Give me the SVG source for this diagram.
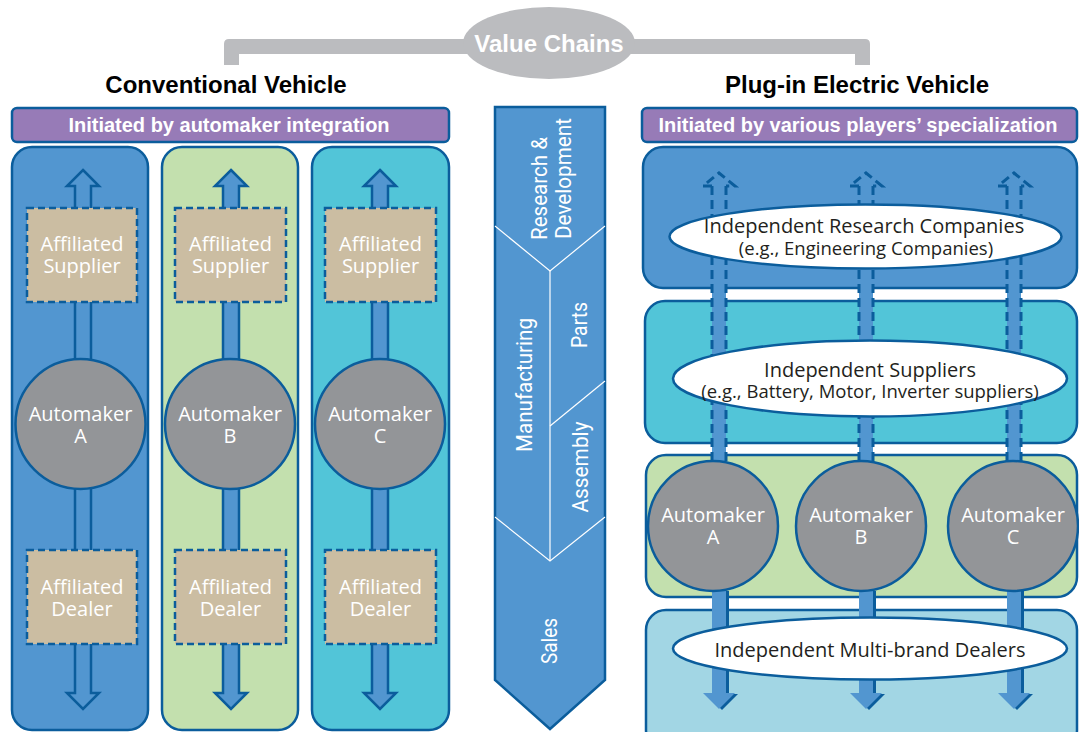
<svg xmlns="http://www.w3.org/2000/svg" width="1079" height="732" viewBox="0 0 1079 732">
<style>
.pan{stroke:#0b5d9c;stroke-width:2.5}
.blue{fill:#5296d0}
.green{fill:#c3e0ae}
.cyan{fill:#52c5d8}
.lblue{fill:#a2d6e4}
.bar{fill:#977bb7;stroke:#0b5d9c;stroke-width:2.5}
.bartxt{font-family:"Liberation Sans",Arial,sans-serif;font-weight:bold;font-size:20px;fill:#fff;text-anchor:middle}
.title{font-family:"Liberation Sans",Arial,sans-serif;font-weight:bold;font-size:24px;fill:#000;text-anchor:middle}
.arr{fill:#5296d0;stroke:#0b5d9c;stroke-width:2.5;stroke-linejoin:miter}
.box{fill:#cbbda2;stroke:#0b5d9c;stroke-width:2.5;stroke-dasharray:7 4}
.wt{font-family:"Open Sans",sans-serif;font-size:20px;fill:#fff;text-anchor:middle}
.circ{fill:#939598;stroke:#0b5d9c;stroke-width:2.5}
.ell{fill:#fff;stroke:#0b5d9c;stroke-width:2.5}
.dt{font-family:"Open Sans",sans-serif;font-size:20px;fill:#231f20;text-anchor:middle}
.dt2{font-family:"Open Sans",sans-serif;font-size:18.5px;fill:#231f20;text-anchor:middle}
.dash{fill:none;stroke:#0b5d9c;stroke-width:3;stroke-dasharray:9 5}
.wl{fill:none;stroke:#fff;stroke-width:1.2}
.vt{font-family:Roboto,"Liberation Sans",sans-serif;font-size:21.5px;fill:#fff;text-anchor:middle}
.vs{font-family:Roboto,"Liberation Sans",sans-serif;font-size:21.5px;fill:#fff;text-anchor:start}
</style>

<!-- Header -->
<g id="value-chains">
  <path d="M224 65 V44 Q224 39 229 39 H865 Q870 39 870 44 V65 H855 V54 H239 V65 Z" fill="#bbbcbf"/>
  <ellipse cx="549" cy="43" rx="86" ry="36" fill="#bbbcbf"/>
  <text x="549" y="52" class="title" style="fill:#fff">Value Chains</text>
</g>
<g id="title-conventional">
  <text x="226" y="93" class="title">Conventional Vehicle</text>
</g>
<g id="title-pev">
  <text x="857" y="93" class="title">Plug-in Electric Vehicle</text>
</g>
<g id="bar-left">
  <rect x="12" y="108" width="437" height="34" rx="5" class="bar"/>
  <text x="229" y="132" class="bartxt">Initiated by automaker integration</text>
</g>
<g id="bar-right">
  <rect x="642" y="108" width="435" height="34" rx="5" class="bar"/>
  <text x="858" y="132" class="bartxt">Initiated by various players’ specialization</text>
</g>

<!-- Left panels -->
<g id="panel-a">
  <rect x="12" y="147" width="136" height="583" rx="20" class="pan blue"/>
</g>
<g id="panel-b">
  <rect x="162" y="147" width="136" height="583" rx="20" class="pan green"/>
</g>
<g id="panel-c">
  <rect x="312" y="147" width="137" height="583" rx="20" class="pan cyan"/>
</g>

<!-- Right panels -->
<g id="panel-research">
  <rect x="643" y="147" width="434" height="141" rx="20" class="pan blue"/>
</g>
<g id="panel-suppliers">
  <rect x="645" y="301" width="432" height="142" rx="20" class="pan cyan"/>
</g>
<g id="panel-automakers">
  <rect x="646" y="455" width="431" height="142" rx="20" class="pan green"/>
</g>
<g id="panel-dealers">
  <rect x="646" y="610" width="431" height="140" rx="20" class="pan lblue"/>
</g>

<!-- Connectors -->
<g id="connectors">
  <!-- left double arrows -->
  <polygon class="arr" points="83,170 99,186 91,186 91,693 99,693 83,709 67,693 75,693 75,186 67,186"/>
  <polygon class="arr" points="231,170 247,186 239,186 239,693 247,693 231,709 215,693 223,693 223,186 215,186"/>
  <polygon class="arr" points="380,170 396,186 388,186 388,693 396,693 380,709 364,693 372,693 372,186 364,186"/>
  <!-- right columns -->
  <g>
    <rect x="712" y="186" width="14" height="410" fill="#5296d0"/>
    <line x1="712" y1="186" x2="712" y2="462" class="dash"/>
    <line x1="726" y1="186" x2="726" y2="462" class="dash"/>
    <polyline points="712,186 703,186 719,173 735,186 726,186" class="dash" stroke-dasharray="12 5"/>
    <polygon points="715,591 729,591 729,694 738,694 722,710 706,694 715,694" fill="#0b5d9c"/>
    <polygon points="712,591 726,591 726,693 735,693 719,709 703,693 712,693" fill="#5296d0"/>
  </g>
  <g>
    <rect x="859" y="186" width="14" height="410" fill="#5296d0"/>
    <line x1="859" y1="186" x2="859" y2="462" class="dash"/>
    <line x1="873" y1="186" x2="873" y2="462" class="dash"/>
    <polyline points="859,186 850,186 866,173 882,186 873,186" class="dash" stroke-dasharray="12 5"/>
    <polygon points="862,591 876,591 876,694 885,694 869,710 853,694 862,694" fill="#0b5d9c"/>
    <polygon points="859,591 873,591 873,693 882,693 866,709 850,693 859,693" fill="#5296d0"/>
  </g>
  <g>
    <rect x="1007" y="186" width="14" height="410" fill="#5296d0"/>
    <line x1="1007" y1="186" x2="1007" y2="462" class="dash"/>
    <line x1="1021" y1="186" x2="1021" y2="462" class="dash"/>
    <polyline points="1007,186 998,186 1014,173 1030,186 1021,186" class="dash" stroke-dasharray="12 5"/>
    <polygon points="1010,591 1024,591 1024,694 1033,694 1017,710 1001,694 1010,694" fill="#0b5d9c"/>
    <polygon points="1007,591 1021,591 1021,693 1030,693 1014,709 998,693 1007,693" fill="#5296d0"/>
  </g>
</g>

<!-- Left nodes -->
<g id="supplier-a">
  <rect x="27" y="208" width="110" height="94" class="box"/>
  <text x="82" y="251" class="wt">Affiliated</text>
  <text x="82" y="273" class="wt">Supplier</text>
</g>
<g id="supplier-b">
  <rect x="175" y="208" width="111" height="94" class="box"/>
  <text x="230.5" y="251" class="wt">Affiliated</text>
  <text x="230.5" y="273" class="wt">Supplier</text>
</g>
<g id="supplier-c">
  <rect x="325" y="208" width="111" height="94" class="box"/>
  <text x="380.5" y="251" class="wt">Affiliated</text>
  <text x="380.5" y="273" class="wt">Supplier</text>
</g>
<g id="automaker-a-left">
  <circle cx="80.5" cy="424" r="65" class="circ"/>
  <text x="80.5" y="421" class="wt">Automaker</text>
  <text x="80.5" y="443" class="wt">A</text>
</g>
<g id="automaker-b-left">
  <circle cx="230" cy="424" r="65" class="circ"/>
  <text x="230" y="421" class="wt">Automaker</text>
  <text x="230" y="443" class="wt">B</text>
</g>
<g id="automaker-c-left">
  <circle cx="380" cy="424" r="65" class="circ"/>
  <text x="380" y="421" class="wt">Automaker</text>
  <text x="380" y="443" class="wt">C</text>
</g>
<g id="dealer-a">
  <rect x="27" y="550" width="110" height="94" class="box"/>
  <text x="82" y="594" class="wt">Affiliated</text>
  <text x="82" y="616" class="wt">Dealer</text>
</g>
<g id="dealer-b">
  <rect x="175" y="550" width="111" height="94" class="box"/>
  <text x="230.5" y="594" class="wt">Affiliated</text>
  <text x="230.5" y="616" class="wt">Dealer</text>
</g>
<g id="dealer-c">
  <rect x="325" y="550" width="111" height="94" class="box"/>
  <text x="380.5" y="594" class="wt">Affiliated</text>
  <text x="380.5" y="616" class="wt">Dealer</text>
</g>

<!-- Center chevron -->
<g id="value-chain-stages">
  <polygon points="495,107 605,107 605,680 550,729 495,680" fill="#5296d0" stroke="#0b5d9c" stroke-width="2.5"/>
  <polyline points="495,226 550,271 605,226" class="wl"/>
  <line x1="550" y1="271" x2="550" y2="561" class="wl"/>
  <line x1="550" y1="426" x2="605" y2="381" class="wl"/>
  <polyline points="495,517 550,561 605,517" class="wl"/>
  <text class="vs" transform="translate(547,240) rotate(-90)" textLength="103" lengthAdjust="spacingAndGlyphs">Research &amp;</text>
  <text class="vs" transform="translate(571,239) rotate(-90)" textLength="121" lengthAdjust="spacingAndGlyphs">Development</text>
  <text class="vt" transform="translate(532,385) rotate(-90)" textLength="134" lengthAdjust="spacingAndGlyphs">Manufacturing</text>
  <text class="vt" transform="translate(587,325) rotate(-90)" textLength="46" lengthAdjust="spacingAndGlyphs">Parts</text>
  <text class="vt" transform="translate(588,467) rotate(-90)" textLength="91" lengthAdjust="spacingAndGlyphs">Assembly</text>
  <text class="vt" transform="translate(557,641) rotate(-90)" textLength="46" lengthAdjust="spacingAndGlyphs">Sales</text>
</g>

<!-- Right nodes -->
<g id="research-companies">
  <ellipse cx="865.5" cy="236.5" rx="196" ry="32" class="ell"/>
  <text x="864" y="233" class="dt">Independent Research Companies</text>
  <text x="866" y="255" class="dt2">(e.g., Engineering Companies)</text>
</g>
<g id="independent-suppliers">
  <ellipse cx="870" cy="378.5" rx="197" ry="38" class="ell"/>
  <text x="870" y="377" class="dt">Independent Suppliers</text>
  <text x="870" y="398" class="dt2">(e.g., Battery, Motor, Inverter suppliers)</text>
</g>
<g id="automaker-a-right">
  <circle cx="713" cy="526" r="65" class="circ"/>
  <text x="713" y="522" class="wt">Automaker</text>
  <text x="713" y="544" class="wt">A</text>
</g>
<g id="automaker-b-right">
  <circle cx="861" cy="526" r="65" class="circ"/>
  <text x="861" y="522" class="wt">Automaker</text>
  <text x="861" y="544" class="wt">B</text>
</g>
<g id="automaker-c-right">
  <circle cx="1013" cy="526" r="65" class="circ"/>
  <text x="1013" y="522" class="wt">Automaker</text>
  <text x="1013" y="544" class="wt">C</text>
</g>
<g id="multibrand-dealers">
  <ellipse cx="870" cy="648.5" rx="197" ry="31" class="ell"/>
  <text x="870" y="657" class="dt">Independent Multi-brand Dealers</text>
</g>
</svg>
